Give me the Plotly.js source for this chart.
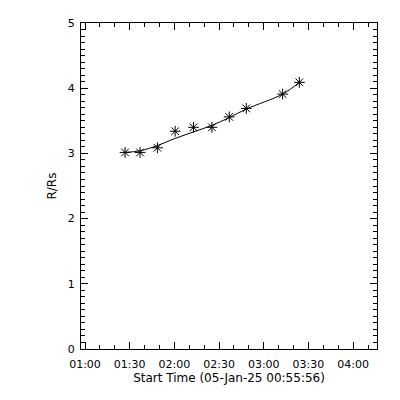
<!DOCTYPE html>
<html>
<head>
<meta charset="utf-8">
<script src="https://cdn.plot.ly/plotly-3.0.1.min.js"></script>
<style>html,body{margin:0;padding:0;background:#fff;}#chart{width:400px;height:400px;}</style>
</head>
<body>
<div id="chart"></div>
<script>
// Observation times (05-Jan-25)
const times = ["2025-01-05 01:26:54","2025-01-05 01:36:59","2025-01-05 01:48:37","2025-01-05 02:00:31","2025-01-05 02:12:50","2025-01-05 02:25:12","2025-01-05 02:36:50","2025-01-05 02:48:16","2025-01-05 03:12:41","2025-01-05 03:23:55"];
// Measured heights R/Rs
const heights = [3.015,3.015,3.086,3.34,3.40,3.40,3.56,3.69,3.91,4.09];
// Fitted curve values read at the same times
const fitHeights = [3.015,3.04,3.12,3.23,3.33,3.43,3.55,3.68,3.91,4.09];
const xRange = ["2025-01-05 00:57:19","2025-01-05 04:16:02"];
const yRange = [0,5];
const xTitle = "Start Time (05-Jan-25 00:55:56)";
const yTitle = "R/Rs";

const fnt = {family:"DejaVu Sans", size:11, color:"#000"};
const data = [
  {x: times, y: fitHeights, mode:"lines", line:{color:"#000", width:1, shape:"spline", smoothing:1}, hoverinfo:"skip"},
  {x: times, y: heights, mode:"markers",
   marker:{symbol:"asterisk-open", size:9, color:"#000", line:{color:"#000", width:1}}}
];
const layout = {
  width:400, height:400,
  margin:{l:81, r:23, t:23, b:51},
  paper_bgcolor:"#fff", plot_bgcolor:"#fff",
  showlegend:false,
  font: fnt,
  xaxis:{
    type:"date", range:xRange, tick0:"2025-01-05 01:00:00", dtick:1800000,
    tickformat:"%H:%M", ticks:"inside", ticklen:7, tickwidth:1, tickcolor:"#000",
    ticklabelstandoff:5,
    minor:{dtick:600000, ticks:"inside", ticklen:4, tickcolor:"#000"},
    showline:true, linecolor:"#000", linewidth:1, mirror:"allticks",
    showgrid:false, zeroline:false, tickfont:fnt,
    title:{text:xTitle, font:{family:"DejaVu Sans", size:12, color:"#000"}, standoff:2}
  },
  yaxis:{
    range:yRange, dtick:1, tick0:0, ticks:"inside", ticklen:7, tickwidth:1, tickcolor:"#000",
    ticklabelstandoff:3,
    minor:{dtick:0.1, ticks:"inside", ticklen:4, tickcolor:"#000"},
    showline:true, linecolor:"#000", linewidth:1, mirror:"allticks",
    showgrid:false, zeroline:false, tickfont:fnt,
    title:{text:yTitle, font:{family:"DejaVu Sans", size:12, color:"#000"}, standoff:8}
  }
};
Plotly.newPlot("chart", data, layout, {staticPlot:true, displayModeBar:false});
</script>
</body>
</html>
